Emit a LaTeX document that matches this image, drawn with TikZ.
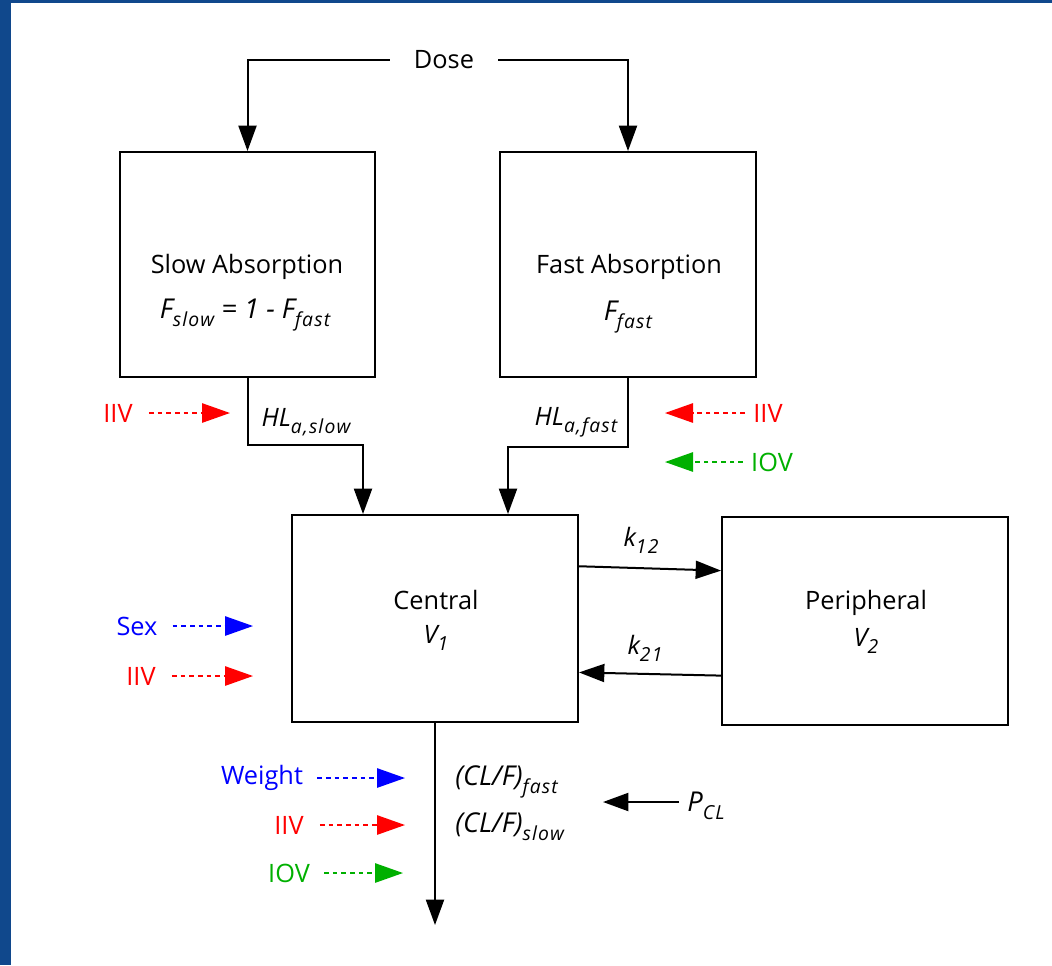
\documentclass[tikz,border=0pt]{standalone}
\usepackage{fontspec}
\setmainfont{Open Sans}
\usetikzlibrary{arrows.meta,calc}
\definecolor{bgblue}{RGB}{16,72,140}
\definecolor{ivgreen}{RGB}{0,176,0}
\newcommand{\sbs}[1]{\raisebox{-0.28em}{\fontsize{14.5pt}{15pt}\selectfont\itshape\addfontfeature{LetterSpace=6}#1}}
\newcommand{\bigit}{\fontsize{20.5pt}{23pt}\selectfont\itshape}
\begin{document}
\begin{tikzpicture}[x=0.75pt,y=-0.75pt,
  font=\fontsize{19pt}{22pt}\selectfont,
  box/.style={draw,line width=1.5pt,minimum width={#1},inner sep=0pt},
  arr/.style={line width=1.5pt,-{Triangle[length=19pt,width=13.5pt]}},
  darr/.style={line width=1.3pt,dash pattern=on 3.5pt off 3pt,-{Triangle[length=21pt,width=14.5pt]}},
  lbl/.style={inner sep=0pt},
]
\useasboundingbox (0,0) rectangle (1052,965);
\fill[white] (0,0) rectangle (1052,965);
\fill[bgblue] (0,0) rectangle (11,965);
\fill[bgblue] (0,0) rectangle (1052,3);

% boxes
\node[box=191.25pt,minimum height=168.75pt] (slow) at (247.5,264.5) {};
\node[box=192pt,minimum height=168.75pt] (fast) at (628,264.5) {};
\node[box=214.5pt,minimum height=155.25pt] (central) at (435,618.5) {};
\node[box=214.5pt,minimum height=156pt] (periph) at (865,621) {};

% box texts
\node[lbl] (slowt) at (247,267) {Slow Absorption};
\node[lbl] (slowf) at (245,315) {\bigit F\sbs{slow} = 1 - F\sbs{fast}};
\node[lbl] (fastt) at (629,267) {Fast Absorption};
\node[lbl] (fastf) at (628,317) {\bigit F\sbs{fast}};
\node[lbl] (centt) at (436,600) {Central};
\node[lbl] (centv) at (436,638) {\itshape V\sbs{1}};
\node[lbl] (perit) at (866,603) {Peripheral};
\node[lbl] (periv) at (866,641) {\itshape V\sbs{2}};

% dose
\node[inner xsep=24pt*0.75,inner ysep=0pt] (dose) at (444,60) {Dose};
\draw[arr] (dose.west) -| (slow.north);
\draw[arr] (dose.east) -| (fast.north);

% absorption to central
\coordinate (s1) at (363,445);
\coordinate (f1) at (508,447);
\draw[arr] (slow.south) |- (s1) -- (s1 |- central.north);
\draw[arr] (fast.south) |- (f1) -- (f1 |- central.north);
\node[lbl] (hls) at (306,422) {\itshape HL\sbs{a,slow}};
\node[lbl] (hlf) at (576,422) {\itshape HL\sbs{a,fast}};

% central <-> peripheral
\draw[arr] ($(central.north east)!0.25!(central.south east)$) -- ($(periph.north west)!0.26!(periph.south west)$);
\draw[arr] ($(periph.north west)!0.76!(periph.south west)$) -- ($(central.north east)!0.758!(central.south east)$);
\node[lbl] (k12) at (641,540) {\itshape k\sbs{12}};
\node[lbl] (k21) at (645,648) {\itshape k\sbs{21}};

% elimination
\coordinate (elim) at (435,925);
\draw[arr] (central.south) -- (central.south |- elim);
\node[lbl,align=left,anchor=west] (clf) at (455,782) {\bigit (CL/F)\sbs{fast}};
\node[lbl,align=left,anchor=west] (cls) at (455,827) {\bigit (CL/F)\sbs{slow}};
\node[lbl] (pcl) at (706,806) {\bigit P\sbs{CL}};
\coordinate (pclend) at (603,802);
\draw[arr,shorten <=8pt*0.75] (pcl.west |- pclend) -- (pclend);

% variability labels
\node[lbl,red] (iiv1) at (118,413) {IIV};
\coordinate (iiv1e) at (230,413);
\draw[darr,red,shorten <=16pt*0.75] (iiv1.east) -- (iiv1e);

\node[lbl,red] (iiv2) at (768,413) {IIV};
\coordinate (iiv2e) at (665,413);
\draw[darr,red,shorten <=8pt*0.75] (iiv2.west) -- (iiv2e);

\node[lbl,ivgreen] (iov1) at (772,462) {IOV};
\coordinate (iov1e) at (665,462);
\draw[darr,ivgreen,shorten <=8pt*0.75] (iov1.west) -- (iov1e);

\node[lbl,blue] (sex) at (137,626) {Sex};
\coordinate (sexe) at (253,626);
\draw[darr,blue,shorten <=15pt*0.75] (sex.east) -- (sexe);

\node[lbl,red] (iiv3) at (141,676) {IIV};
\coordinate (iiv3e) at (253,676);
\draw[darr,red,shorten <=16pt*0.75] (iiv3.east) -- (iiv3e);

\node[lbl,blue] (wt) at (262,778) {Weight};
\coordinate (wte) at (405,778);
\draw[darr,blue,shorten <=14pt*0.75] (wt.east) -- (wte);

\node[lbl,red] (iiv4) at (289,825) {IIV};
\coordinate (iiv4e) at (405,825);
\draw[darr,red,shorten <=16pt*0.75] (iiv4.east) -- (iiv4e);

\node[lbl,ivgreen] (iov2) at (289,873) {IOV};
\coordinate (iov2e) at (403,873);
\draw[darr,ivgreen,shorten <=14pt*0.75] (iov2.east) -- (iov2e);
\end{tikzpicture}
\end{document}
